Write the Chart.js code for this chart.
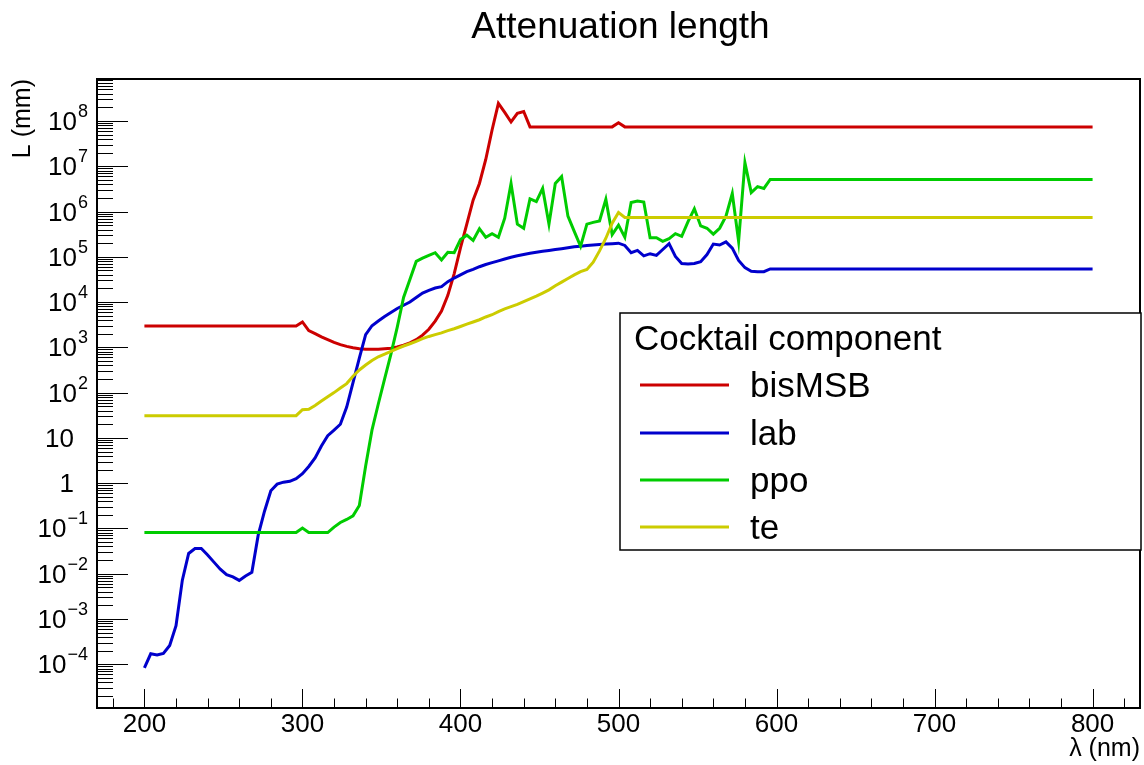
<!DOCTYPE html>
<html>
<head>
<meta charset="utf-8">
<title>Attenuation length</title>
<script src="https://cdn.jsdelivr.net/npm/chart.js@4.4.1/dist/chart.umd.min.js"></script>
<style>
  html, body { margin: 0; padding: 0; background: #fff; }
  #wrap { width: 1144px; height: 765px; position: relative; }
</style>
</head>
<body>
<div id="wrap"><canvas id="attenuationChart"></canvas></div>
<script>
// wavelength grid in nm (flat above 596 nm, so only the end point is kept)
const wavelengths = [
  200, 204, 208, 212, 216, 220, 224, 228, 232, 236,
  240, 244, 248, 252, 256, 260, 264, 268, 272, 276,
  280, 284, 288, 292, 296, 300, 304, 308, 312, 316,
  320, 324, 328, 332, 336, 340, 344, 348, 352, 356,
  360, 364, 368, 372, 376, 380, 384, 388, 392, 396,
  400, 404, 408, 412, 416, 420, 424, 428, 432, 436,
  440, 444, 448, 452, 456, 460, 464, 468, 472, 476,
  480, 484, 488, 492, 496, 500, 504, 508, 512, 516,
  520, 524, 528, 532, 536, 540, 544, 548, 552, 556,
  560, 564, 568, 572, 576, 580, 584, 588, 592, 596,
  800
];

// attenuation length in mm
const bisMSB = [
  2950, 2950, 2950, 2950, 2950, 2950, 2950, 2950, 2950, 2950,
  2950, 2950, 2950, 2950, 2950, 2950, 2950, 2950, 2950, 2950,
  2950, 2950, 2950, 2950, 2950, 3630, 2340, 2000, 1700, 1480,
  1290, 1150, 1050, 980, 930, 910, 910, 910, 930, 955,
  1020, 1120, 1260, 1480, 1860, 2510, 3800, 6300, 1.41e4, 4.2e4,
  1.58e5, 5.25e5, 1.78e6, 4.17e6, 1.41e7, 6.3e7, 2.45e8, 1.55e8, 9.5e7, 1.48e8,
  1.62e8, 7.4e7, 7.4e7, 7.4e7, 7.4e7, 7.4e7, 7.4e7, 7.4e7, 7.4e7, 7.4e7,
  7.4e7, 7.4e7, 7.4e7, 7.4e7, 7.4e7, 9.1e7, 7.4e7, 7.4e7, 7.4e7, 7.4e7,
  7.4e7, 7.4e7, 7.4e7, 7.4e7, 7.4e7, 7.4e7, 7.4e7, 7.4e7, 7.4e7, 7.4e7,
  7.4e7, 7.4e7, 7.4e7, 7.4e7, 7.4e7, 7.4e7, 7.4e7, 7.4e7, 7.4e7, 7.4e7,
  7.4e7
];

const lab = [
  8.3e-5, 1.7e-4, 1.6e-4, 1.74e-4, 2.6e-4, 7.1e-4, 7.2e-3, 2.8e-2, 3.6e-2, 3.6e-2,
  2.6e-2, 1.8e-2, 1.26e-2, 9.5e-3, 8.5e-3, 7.1e-3, 8.9e-3, 1.07e-2, 7.1e-2, 0.24,
  0.68, 0.95, 1.05, 1.1, 1.26, 1.62, 2.34, 3.6, 6.6, 11.2,
  14.8, 20, 48, 166, 575, 1900, 3000, 3800, 4800, 5900,
  7200, 8500, 1.0e4, 1.26e4, 1.58e4, 1.82e4, 2.04e4, 2.19e4, 2.82e4, 3.39e4,
  3.98e4, 4.68e4, 5.25e4, 6.03e4, 6.76e4, 7.41e4, 8.13e4, 8.91e4, 9.77e4, 1.05e5,
  1.12e5, 1.2e5, 1.26e5, 1.32e5, 1.38e5, 1.45e5, 1.51e5, 1.58e5, 1.66e5, 1.7e5,
  1.78e5, 1.82e5, 1.86e5, 1.91e5, 1.95e5, 2.0e5, 1.78e5, 1.23e5, 1.38e5, 1.05e5,
  1.17e5, 1.07e5, 1.45e5, 1.95e5, 1.02e5, 7.1e4, 6.9e4, 7.1e4, 7.8e4, 1.12e5,
  1.91e5, 1.82e5, 2.14e5, 1.55e5, 8.3e4, 5.75e4, 4.8e4, 4.7e4, 4.7e4, 5.4e4,
  5.4e4
];

const ppo = [
  0.081, 0.081, 0.081, 0.081, 0.081, 0.081, 0.081, 0.081, 0.081, 0.081,
  0.081, 0.081, 0.081, 0.081, 0.081, 0.081, 0.081, 0.081, 0.081, 0.081,
  0.081, 0.081, 0.081, 0.081, 0.081, 0.102, 0.081, 0.081, 0.081, 0.081,
  0.107, 0.135, 0.158, 0.19, 0.32, 2.4, 14.8, 56, 200, 710,
  2800, 1.26e4, 3.16e4, 7.9e4, 9.3e4, 1.07e5, 1.23e5, 8.5e4, 1.26e5, 1.23e5,
  2.4e5, 3.0e5, 2.3e5, 4.17e5, 2.7e5, 3.24e5, 2.7e5, 7.1e5, 4.17e6, 5.25e5,
  4.27e5, 1.91e6, 1.66e6, 3.24e6, 5.25e5, 4.17e6, 5.9e6, 7.9e5, 3.63e5, 1.7e5,
  5.25e5, 5.75e5, 6.2e5, 1.86e6, 3.1e5, 5.0e5, 2.7e5, 1.58e6, 1.7e6, 1.62e6,
  2.63e5, 2.63e5, 2.19e5, 2.51e5, 3.24e5, 2.82e5, 6.0e5, 1.15e6, 4.8e5, 4.27e5,
  3.16e5, 4.27e5, 7.9e5, 2.5e6, 2.19e5, 1.2e7, 2.63e6, 3.55e6, 3.24e6, 5.1e6,
  5.1e6
];

const te = [
  31, 31, 31, 31, 31, 31, 31, 31, 31, 31,
  31, 31, 31, 31, 31, 31, 31, 31, 31, 31,
  31, 31, 31, 31, 31, 42, 43, 52, 65, 81,
  100, 126, 158, 229, 316, 407, 513, 617, 708, 813,
  933, 1070, 1200, 1350, 1550, 1740, 1910, 2090, 2340, 2570,
  2880, 3240, 3630, 4070, 4680, 5250, 6170, 7080, 7940, 8910,
  1.02e4, 1.17e4, 1.35e4, 1.58e4, 1.86e4, 2.29e4, 2.75e4, 3.31e4, 3.98e4, 4.68e4,
  5.25e4, 7.6e4, 1.35e5, 2.57e5, 5.5e5, 9.5e5, 7.4e5, 7.4e5, 7.4e5, 7.4e5,
  7.4e5, 7.4e5, 7.4e5, 7.4e5, 7.4e5, 7.4e5, 7.4e5, 7.4e5, 7.4e5, 7.4e5,
  7.4e5, 7.4e5, 7.4e5, 7.4e5, 7.4e5, 7.4e5, 7.4e5, 7.4e5, 7.4e5, 7.4e5,
  7.4e5
];

const seriesNames = ['bisMSB', 'lab', 'ppo', 'te'];
const seriesColors = ['#cc0000', '#0000cc', '#00cc00', '#cccc00'];

// axis labels
const xTickValues = [200, 300, 400, 500, 600, 700, 800];
const yTickPowers = [-4, -3, -2, -1, 0, 1, 2, 3, 4, 5, 6, 7, 8];

const FONT = '"Liberation Sans", Arial, Helvetica, sans-serif';

function toPoints(values) {
  return wavelengths.map((w, i) => ({ x: w, y: values[i] }));
}

// ROOT style frame, ticks, labels and legend drawn on top of the chart
const rootStyle = {
  id: 'rootStyle',
  afterDraw(chart) {
    const c = chart.ctx;
    const area = chart.chartArea;
    const xs = chart.scales.x;
    const ys = chart.scales.y;
    c.save();
    c.fillStyle = '#000';
    c.strokeStyle = '#000';

    // x ticks (inside, from bottom)
    c.lineWidth = 1;
    c.beginPath();
    for (let v = 180; v <= 820; v += 20) {
      const x = Math.round(xs.getPixelForValue(v)) + 0.5;
      const len = v % 100 === 0 ? 19 : 9.5;
      c.moveTo(x, area.bottom);
      c.lineTo(x, area.bottom - len);
    }
    // y ticks (inside, from left)
    for (let d = -6; d <= 9; d++) {
      for (let k = 1; k <= 9; k++) {
        const v = k * Math.pow(10, d);
        if (v < ys.min || v > ys.max) continue;
        const y = Math.round(ys.getPixelForValue(v)) + 0.5;
        const len = k === 1 ? 31 : 16;
        c.moveTo(area.left, y);
        c.lineTo(area.left + len, y);
      }
    }
    c.stroke();

    // frame
    c.lineWidth = 2;
    c.strokeRect(area.left, area.top, area.right - area.left, area.bottom - area.top);

    // x labels
    c.font = '26px ' + FONT;
    c.textAlign = 'center';
    c.textBaseline = 'alphabetic';
    xTickValues.forEach(v => {
      c.fillText(String(v), xs.getPixelForValue(v), 732);
    });

    // y labels with superscript powers
    yTickPowers.forEach(p => {
      const y = ys.getPixelForValue(Math.pow(10, p));
      const xRight = 88;
      c.textAlign = 'right';
      if (p === 0 || p === 1) {
        c.font = '26px ' + FONT;
        c.fillText(p === 0 ? '1' : '10', xRight - 14, y + 9);
        return;
      }
      const exp = p < 0 ? '\u2212' + (-p) : String(p);
      c.font = '18px ' + FONT;
      const expW = c.measureText(exp).width;
      c.fillText(exp, xRight, y - 4);
      c.font = '26px ' + FONT;
      c.fillText('10', xRight - expW - 1, y + 9);
    });

    // axis titles
    c.font = '25px ' + FONT;
    c.textAlign = 'right';
    c.fillText('\u03bb (nm)', area.right, 756);
    c.save();
    c.translate(30, area.top);
    c.rotate(-Math.PI / 2);
    c.textAlign = 'right';
    c.fillText('L (mm)', 0, 0);
    c.restore();

    // title
    c.font = '37px ' + FONT;
    c.textAlign = 'center';
    c.fillText('Attenuation length', (area.left + area.right) / 2 + 2, 38);

    // legend box
    const lx = 620, ly = 313, lw = 521, lh = 237;
    c.fillStyle = '#fff';
    c.fillRect(lx, ly, lw, lh);
    c.lineWidth = 1.5;
    c.strokeStyle = '#000';
    c.strokeRect(lx, ly, lw, lh);
    c.fillStyle = '#000';
    c.font = '35px ' + FONT;
    c.textAlign = 'left';
    c.fillText('Cocktail component', 634, 350);
    const rowY = [385, 433, 480, 527];
    seriesNames.forEach((name, i) => {
      c.strokeStyle = seriesColors[i];
      c.lineWidth = 3;
      c.beginPath();
      c.moveTo(640, rowY[i]);
      c.lineTo(729, rowY[i]);
      c.stroke();
      c.fillStyle = '#000';
      c.fillText(name, 750, rowY[i] + 12);
    });
    c.restore();
  }
};

const attenuationChart = document.getElementById('attenuationChart').getContext('2d');
const allSeries = [bisMSB, lab, ppo, te];

const data = {
  datasets: allSeries.map((values, i) => ({
    label: seriesNames[i],
    data: toPoints(values),
    borderColor: seriesColors[i],
    backgroundColor: seriesColors[i],
    borderWidth: 3,
    pointRadius: 0,
    tension: 0,
    fill: false,
    order: 4 - i
  }))
};

const options = {
  responsive: true,
  maintainAspectRatio: false,
  animation: false,
  layout: { padding: { left: 97, top: 79, right: 4, bottom: 57 } },
  plugins: {
    legend: { display: false },
    tooltip: { enabled: false }
  },
  scales: {
    x: {
      type: 'linear',
      min: 170,
      max: 830,
      display: false
    },
    y: {
      type: 'logarithmic',
      min: 1.08e-5,
      max: 8.45e8,
      display: false
    }
  }
};

const chart = new Chart(attenuationChart, {
  type: 'line',
  data: data,
  options: options,
  plugins: [rootStyle]
});
</script>
</body>
</html>
